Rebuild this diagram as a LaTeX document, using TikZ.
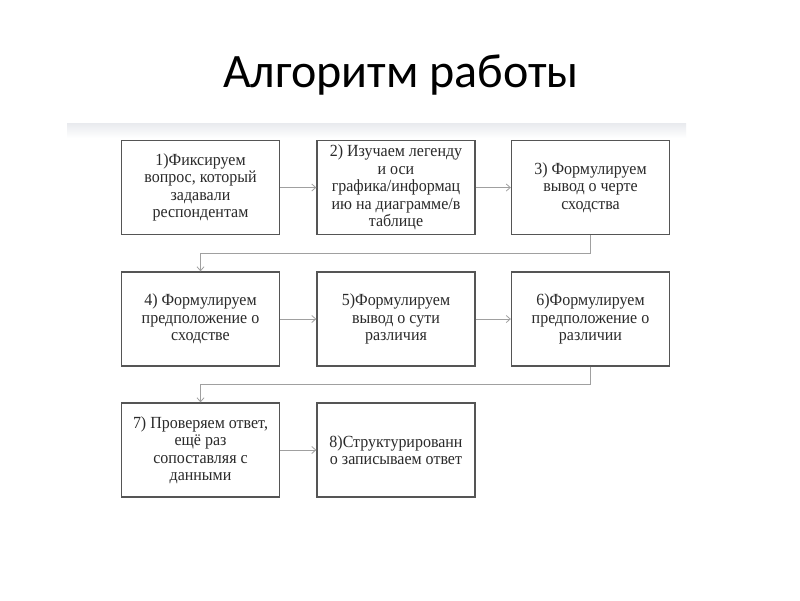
\documentclass[tikz,border=0pt]{standalone}
\usepackage{fontspec}
\setmainfont{Liberation Serif}
\newfontfamily\titlefont{Carlito}
\newfontfamily\stepfont[FakeStretch=0.94]{Liberation Serif}
\usetikzlibrary{arrows.meta}
\tikzset{>={Straight Barb[length=4pt,width=7pt]}}
\definecolor{boxline}{HTML}{555555}
\definecolor{linkline}{HTML}{A0A0A0}
\definecolor{boxtext}{HTML}{2A2A2A}
\definecolor{band}{HTML}{E8EAEE}

\begin{document}
\begin{tikzpicture}[x=1pt, y=-1pt,
    stepbox/.style={draw=boxline, line width=1.3pt, minimum width=158pt, minimum height=94pt,
      align=center, text=boxtext, inner sep=2pt, font=\stepfont\fontsize{17}{17.5}\selectfont},
    link/.style={->, draw=linkline, line width=0.8pt}]
    \useasboundingbox[fill=white] (0,0) rectangle (800,600);
    \shade[top color=band, bottom color=white] (67,123) rectangle (686,138);
    \node[anchor=base, font=\titlefont\fontsize{48}{56}\selectfont] (title) at (401,87) {Алгоритм работы};
    % first row
    \node[stepbox] (s1) at (200.5,187.5) {1)Фиксируем\\вопрос, который\\задавали\\респондентам};
    \node[stepbox] (s2) at (396,187.5) {2) Изучаем легенду\\и оси\\графика/информац\\ию на диаграмме/в\\таблице};
    \node[stepbox] (s3) at (590.5,187.5) {3) Формулируем\\вывод о черте\\сходства};
    % second row
    \node[stepbox] (s4) at (200.5,319) {4) Формулируем\\предположение о\\сходстве};
    \node[stepbox] (s5) at (396,319) {5)Формулируем\\вывод о сути\\различия};
    \node[stepbox] (s6) at (590.5,319) {6)Формулируем\\предположение о\\различии};
    % third row
    \node[stepbox] (s7) at (200.5,450) {7) Проверяем ответ,\\ещё раз\\сопоставляя с\\данными};
    \node[stepbox] (s8) at (396,450) {8)Структурированн\\о записываем ответ};
    \draw[link] (s1) -- (s2);
    \draw[link] (s2) -- (s3);
    \draw[link] (s3.south) -- ++(0,18) -| (s4.north);
    \draw[link] (s4) -- (s5);
    \draw[link] (s5) -- (s6);
    \draw[link] (s6.south) -- ++(0,18) -| (s7.north);
    \draw[link] (s7) -- (s8);
\end{tikzpicture}
\end{document}
